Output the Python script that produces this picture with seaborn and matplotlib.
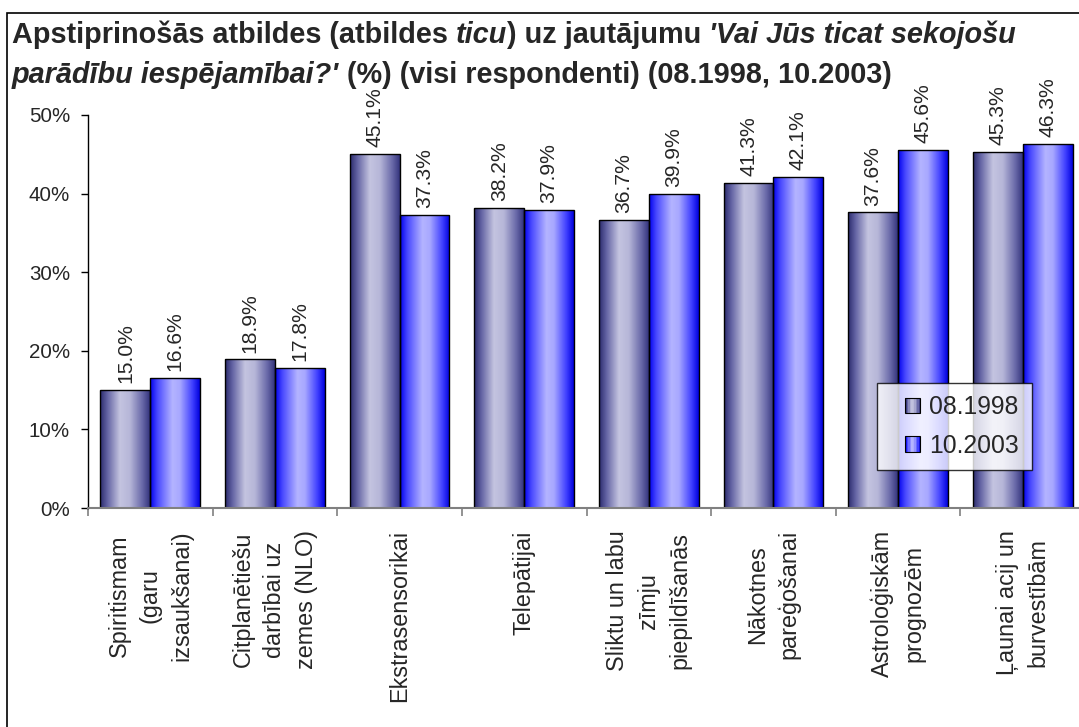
import numpy as np
import pandas as pd
import matplotlib
matplotlib.use("Agg")
import matplotlib.pyplot as plt
import seaborn as sns
from matplotlib.colors import LinearSegmentedColormap
from matplotlib.patches import Rectangle
from matplotlib.legend_handler import HandlerBase

# data
categories = [
    "Spiritismam\n(garu\nizsaukšanai)",
    "Citplanētiešu\ndarbībai uz\nzemes (NLO)",
    "Ekstrasensorikai",
    "Telepātijai",
    "Sliktu un labu\nzīmju\npiepildīšanās",
    "Nākotnes\npareģošanai",
    "Astroloģiskām\nprognozēm",
    "Ļaunai acij un\nburvestībām",
]
series = ["08.1998", "10.2003"]
values_1998 = [15.0, 18.9, 45.1, 38.2, 36.7, 41.3, 37.6, 45.3]
values_2003 = [16.6, 17.8, 37.3, 37.9, 39.9, 42.1, 45.6, 46.3]
y_ticks = [0, 10, 20, 30, 40, 50]
y_tick_labels = ["0%", "10%", "20%", "30%", "40%", "50%"]

df = pd.DataFrame({
    "category": categories * 2,
    "value": values_1998 + values_2003,
    "period": [series[0]] * len(categories) + [series[1]] * len(categories),
})

sns.set_theme(style="white")
plt.rcParams["font.family"] = ["Liberation Sans", "DejaVu Sans"]

W, H = 1079, 727
fig = plt.figure(figsize=(W / 100, H / 100), dpi=100)
fig.patch.set_facecolor("white")
ax = fig.add_axes([88 / W, (H - 508) / H, 997 / W, 393 / H])

# cylinder-like gradients (Excel 2003 style)
cmap1 = LinearSegmentedColormap.from_list("c1", [
    (0.0, "#2a2a6c"), (0.15, "#6464a4"), (0.4, "#c4c4e0"),
    (0.6, "#b6b6d8"), (0.85, "#6868a8"), (1.0, "#33337c")])
cmap2 = LinearSegmentedColormap.from_list("c2", [
    (0.0, "#0000ee"), (0.15, "#4a4aff"), (0.45, "#b4b4ff"),
    (0.6, "#a8a8ff"), (0.85, "#4040ff"), (1.0, "#0000dd")])
cmaps = [cmap1, cmap2]

sns.barplot(data=df, x="category", y="value", hue="period",
            palette=["#8080b8", "#6060ff"], saturation=1, width=0.8,
            edgecolor="black", linewidth=1, legend=False, ax=ax)

grad = np.linspace(0, 1, 256)[None, :]
for cont, cm in zip(ax.containers, cmaps):
    for bar in cont:
        x, w, h = bar.get_x(), bar.get_width(), bar.get_height()
        im = ax.imshow(grad, cmap=cm, extent=[x, x + w, 0, h], aspect="auto",
                       interpolation="bilinear", zorder=1.5)
        im.set_clip_path(bar)
        bar.set_facecolor("none")
        bar.set_zorder(2)
    ax.bar_label(cont, fmt="%.1f%%", rotation=90, padding=5, fontsize=15.2)

ax.set_xlim(-0.5, len(categories) - 0.5)
ax.set_ylim(0, 50)
ax.set_xlabel("")
ax.set_ylabel("")

ax.set_yticks(y_ticks)
ax.set_yticklabels(y_tick_labels, fontsize=14.8)
ax.tick_params(axis="y", direction="out", length=5, width=1, color="black",
               pad=8, left=True)

ax.set_xticks(range(len(categories)))
ax.set_xticklabels(categories, rotation=90, ha="center", va="top",
                   multialignment="center", linespacing=1.45, fontsize=16.8)
ax.set_xticks(np.arange(-0.5, len(categories), 1), minor=True)
ax.tick_params(axis="x", which="major", length=0, pad=16)
ax.tick_params(axis="x", which="minor", direction="out", length=6, width=1.2,
               color="#808080", bottom=True)

for side in ["top", "right"]:
    ax.spines[side].set_visible(False)
ax.spines["left"].set_color("black")
ax.spines["left"].set_linewidth(1)
ax.spines["bottom"].set_color("#808080")
ax.spines["bottom"].set_linewidth(1.5)


class GradHandler(HandlerBase):
    def __init__(self, cm):
        super().__init__()
        self.cm = cm

    def create_artists(self, legend, orig_handle, xdescent, ydescent,
                       width, height, fontsize, trans):
        n = 10
        sq = height
        x0 = -xdescent + width - sq
        y0 = -ydescent
        arts = []
        for i in range(n):
            arts.append(Rectangle((x0 + i * sq / n, y0), sq / n, sq,
                                  facecolor=self.cm((i + 0.5) / n),
                                  edgecolor="none", transform=trans))
        arts.append(Rectangle((x0, y0), sq, sq, facecolor="none",
                              edgecolor="black", lw=0.8, transform=trans))
        return arts


h1 = Rectangle((0, 0), 1, 1)
h2 = Rectangle((0, 0), 1, 1)
leg = ax.legend([h1, h2], series, loc="upper left",
                bbox_to_anchor=((877 - 88) / 997, (508 - 383) / 393),
                borderaxespad=0, fontsize=17.8, frameon=True, fancybox=False,
                edgecolor="black", handlelength=1.25, handleheight=0.57,
                handletextpad=0.37, labelspacing=0.58, borderpad=0.5,
                handler_map={h1: GradHandler(cmap1), h2: GradHandler(cmap2)})
leg.get_frame().set_linewidth(1)
leg.set_zorder(5)

# title with mixed bold / bold italic runs
renderer = fig.canvas.get_renderer()
title_size = 20.8
lines = [
    [("Apstiprinošās atbildes (atbildes ", "normal"), ("ticu", "italic"),
     (") uz jautājumu ", "normal"), ("'Vai Jūs ticat sekojošu", "italic")],
    [("parādību iespējamībai?'", "italic"),
     (" (%) (visi respondenti) (08.1998, 10.2003)", "normal")],
]
baselines = [43, 83]
for runs, yb in zip(lines, baselines):
    x = 12
    for s, st in runs:
        t = fig.text(x / W, 1 - yb / H, s, fontsize=title_size,
                     fontweight="bold", fontstyle=st, va="baseline", ha="left")
        x += t.get_window_extent(renderer).width

# outer chart frame
fig.add_artist(Rectangle((7 / W, -0.1), 2, (H - 13) / H + 0.1,
                         transform=fig.transFigure, fill=False,
                         edgecolor="black", linewidth=1.2))

fig.savefig("out.png", dpi=100)
